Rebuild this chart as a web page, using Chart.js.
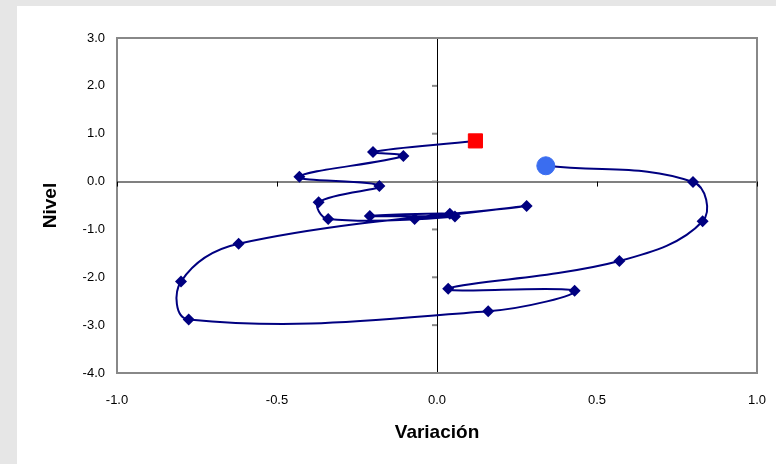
<!DOCTYPE html>
<html>
<head>
<meta charset="utf-8">
<script src="https://cdn.jsdelivr.net/npm/chart.js@4.4.1/dist/chart.umd.min.js"></script>
<style>
  html, body { margin: 0; padding: 0; background: #e6e6e6; }
  #panel { position: absolute; left: 17px; top: 6px; width: 759px; height: 458px; background: #fff; }
  #wrap { position: absolute; left: 0; top: 0; width: 776px; height: 464px; }
</style>
</head>
<body>
<div id="panel"></div>
<div id="wrap"><canvas id="chart"></canvas></div>
<script>
// path of the cycle (first = blue circle, last = red square)
var variacion = [0.34, 0.80, 0.83, 0.57, 0.035, 0.43, 0.16, -0.776, -0.80, -0.62,
                 0.28, -0.07, 0.04, -0.21, 0.056, -0.34, -0.37, -0.18, -0.43, -0.105, -0.20, 0.12];
var nivel     = [0.33, -0.01, -0.83, -1.66, -2.24, -2.28, -2.71, -2.88, -2.09, -1.30,
                 -0.51, -0.78, -0.67, -0.72, -0.73, -0.78, -0.43, -0.09, 0.10, 0.535, 0.62, 0.85];
var xTicks = [-1.0, -0.5, 0.0, 0.5, 1.0];
var yTicks = [-4.0, -3.0, -2.0, -1.0, 0.0, 1.0, 2.0, 3.0];

var path = [];
for (var i = 0; i < variacion.length; i++) {
    path.push({x: variacion[i], y: nivel[i]});
}
var last = path.length - 1;
var radii = path.map(function(p, i) { return (i === 0 || i === last) ? 0 : 6; });

// frame of the plot + small ticks on the crossing axes
var frame = {
    id: 'frame',
    beforeDatasetsDraw: function(chart) {
        var ctx = chart.ctx, a = chart.chartArea;
        var sx = chart.scales.x, sy = chart.scales.y;
        var x0 = sx.getPixelForValue(0), y0 = sy.getPixelForValue(0);
        ctx.save();
        ctx.strokeStyle = '#888';
        ctx.lineWidth = 2;
        ctx.strokeRect(a.left, a.top, a.right - a.left, a.bottom - a.top);
        yTicks.forEach(function(v) {
            var py = sy.getPixelForValue(v);
            ctx.beginPath(); ctx.moveTo(x0 - 5, py); ctx.lineTo(x0, py); ctx.stroke();
        });
        ctx.strokeStyle = '#000';
        ctx.lineWidth = 1;
        xTicks.forEach(function(v) {
            var px = Math.round(sx.getPixelForValue(v)) + 0.5;
            ctx.beginPath(); ctx.moveTo(px, y0); ctx.lineTo(px, y0 + 5); ctx.stroke();
        });
        ctx.restore();
    }
};

var chart = new Chart(document.getElementById('chart'), {
    type: 'scatter',
    data: {
        datasets: [{
            data: [path[0]],
            pointStyle: 'circle',
            pointRadius: 9,
            backgroundColor: '#3a6df0',
            borderColor: '#3a6df0',
            order: 0
        }, {
            data: [path[last]],
            pointStyle: 'rect',
            pointRadius: 10,
            backgroundColor: '#ff0000',
            borderColor: '#ff0000',
            order: 0
        }, {
            data: path,
            showLine: true,
            tension: 0.4,
            borderColor: '#000080',
            borderWidth: 2,
            pointStyle: 'rectRot',
            pointRadius: radii,
            backgroundColor: '#000080',
            pointBorderColor: '#000080',
            pointBorderWidth: 0,
            order: 1
        }]
    },
    options: {
        responsive: true,
        maintainAspectRatio: false,
        animation: false,
        layout: { padding: { left: 0, top: 38, right: 19, bottom: 0 } },
        plugins: { legend: { display: false }, tooltip: { enabled: false } },
        scales: {
            x: {
                min: -1, max: 1,
                afterBuildTicks: function(s) { s.ticks = xTicks.map(function(v) { return {value: v}; }); },
                afterFit: function(s) { s.height = 91; s.paddingLeft = 0; s.paddingRight = 0; },
                ticks: {
                    padding: 20,
                    color: '#000',
                    font: { family: 'Liberation Sans', size: 13 },
                    callback: function(v) { return v.toFixed(1); }
                },
                grid: {
                    drawTicks: false,
                    color: function(c) { return c.tick && c.tick.value === 0 ? '#000' : 'rgba(0,0,0,0)'; },
                    lineWidth: 1
                },
                border: { display: false },
                title: {
                    display: true, text: 'Variación', color: '#000',
                    font: { family: 'Liberation Sans', size: 19, weight: 'bold' },
                    padding: { top: 0, bottom: 20 }
                }
            },
            y: {
                min: -4, max: 3,
                afterBuildTicks: function(s) { s.ticks = yTicks.map(function(v) { return {value: v}; }); },
                afterFit: function(s) { s.width = 117; s.paddingTop = 0; s.paddingBottom = 0; },
                ticks: {
                    padding: 12,
                    color: '#000',
                    font: { family: 'Liberation Sans', size: 13 },
                    callback: function(v) { return v.toFixed(1); }
                },
                grid: {
                    drawTicks: false,
                    color: function(c) { return c.tick && c.tick.value === 0 ? '#808080' : 'rgba(0,0,0,0)'; },
                    lineWidth: 2
                },
                border: { display: false },
                title: {
                    display: true, text: 'Nivel', color: '#000',
                    font: { family: 'Liberation Sans', size: 19, weight: 'bold' },
                    padding: { top: 39, bottom: 0 }
                }
            }
        }
    },
    plugins: [frame]
});
</script>
</body>
</html>
